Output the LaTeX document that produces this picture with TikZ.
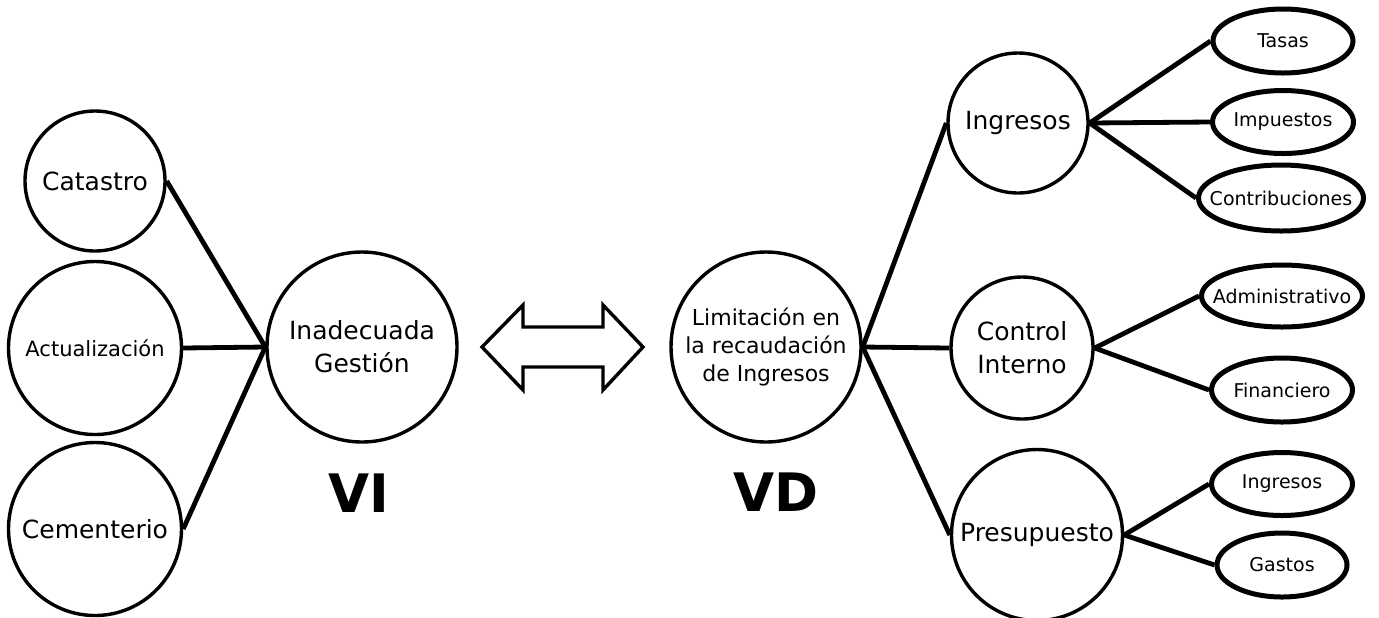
\documentclass[tikz,border=0pt]{standalone}
\usepackage{fontspec}
\setmainfont{DejaVu Sans}
\usetikzlibrary{shapes.geometric}
\tikzset{
    var/.style={circle,draw,line width=1.7pt,inner sep=0pt,align=center,font=\fontsize{12.5}{16.5}\selectfont},
    dim/.style={ellipse,draw,line width=2.5pt,inner sep=0pt,
        label={[font=\fontsize{9.5}{11}\selectfont,inner sep=0pt]center:#1}},
    link/.style={line width=2.4pt},
    tag/.style={font=\fontsize{26.5}{30}\selectfont\bfseries}
}
\begin{document}
\begin{tikzpicture}[x=0.5pt,y=-0.5pt]
    \useasboundingbox (0,0) rectangle (1379,617);
    % independent variable
    \node[var,minimum size=95pt] (vi) at (362,347) {Inadecuada\\Gesti\'on};
    \node[var,minimum size=70pt] (cat) at (95,181) {Catastro};
    \node[var,minimum size=86.5pt,font=\fontsize{10.5}{13}\selectfont] (act) at (95,348) {Actualizaci\'on};
    \node[var,minimum size=86.5pt] (cem) at (95,529) {Cementerio};
    \node[tag] (tvi) at (359,493) {VI};
    % dependent variable
    \node[var,minimum size=95pt,font=\fontsize{11}{14}\selectfont] (vd) at (766,347) {Limitaci\'on en\\la recaudaci\'on\\de Ingresos};
    \node[tag] (tvd) at (776,492) {VD};
    \node[var,minimum size=70pt] (ing) at (1018,123) {Ingresos};
    \node[var,minimum size=71pt] (ctl) at (1022,348) {Control\\Interno};
    \node[var,minimum size=85.5pt] (pre) at (1037,535) {Presupuesto};
    \node[dim=Tasas,minimum width=70pt,minimum height=32pt] (tas) at (1283,41) {};
    \node[dim=Impuestos,minimum width=70.5pt,minimum height=31.5pt] (imp) at (1283,122) {};
    \node[dim=Contribuciones,minimum width=82.5pt,minimum height=33pt] (con) at (1281,198) {};
    \node[dim=Administrativo,minimum width=80.5pt,minimum height=31pt] (adm) at (1282,296) {};
    \node[dim=Financiero,minimum width=70.5pt,minimum height=32pt] (fin) at (1282,390) {};
    \node[dim=Ingresos,minimum width=70.5pt,minimum height=31.5pt] (ipr) at (1282,484) {};
    \node[dim=Gastos,minimum width=65pt,minimum height=32pt] (gas) at (1282,565) {};
    % double arrow
    \draw[line width=1.7pt,line join=miter] (482,347) -- (523,305) -- (523,327) -- (603,327) -- (603,305)
        -- (643,347) -- (603,390) -- (603,367) -- (523,367) -- (523,390) -- cycle;
    \path[link]
        (cat.east) edge (vi.west)
        (act.east) edge (vi.west)
        (cem.east) edge (vi.west)
        (vd.east)  edge (ing.west)
                   edge (ctl.west)
                   edge (pre.west)
        (ing.east) edge (tas.west)
                   edge (imp.west)
                   edge (con.west)
        (ctl.east) edge (adm.west)
                   edge (fin.west)
        (pre.east) edge (ipr.west)
                   edge (gas.west)
    ;
\end{tikzpicture}
\end{document}
